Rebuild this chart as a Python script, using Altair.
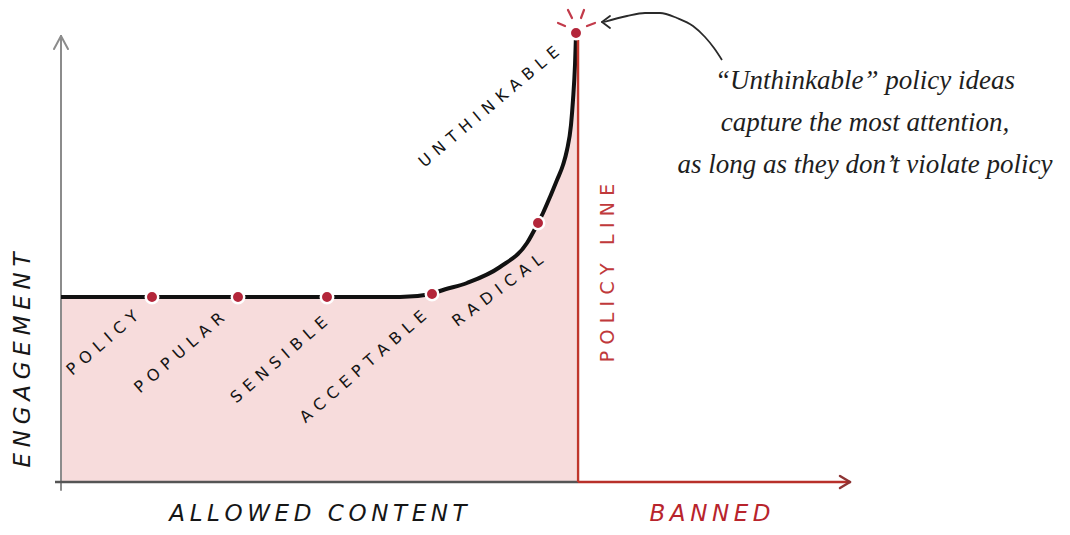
import altair as alt
import pandas as pd

# ---- data (x = position along the content spectrum, y = engagement) ----
curve_x = [0, 91, 177, 266, 339, 371, 379, 406, 439, 466, 477, 482, 489, 496, 502, 506, 510, 512, 514, 515]
curve_y = [185, 185, 185, 185, 185, 188, 191, 199, 215, 239, 259, 269, 285, 302, 317, 332, 357, 382, 417, 447]

stage_names = ["POLICY", "POPULAR", "SENSIBLE", "ACCEPTABLE", "RADICAL", "UNTHINKABLE"]
stage_x = [91, 177, 266, 371, 477, 515]
stage_y = [185, 185, 185, 188, 259, 449]

policy_line_x = 517
axis_end_x = 789
axis_top_y = 446

annotation = "\u201cUnthinkable\u201d policy ideas\ncapture the most attention,\nas long as they don\u2019t violate policy"

# label placement (offsets from the dot, angle of the rotated label)
label_dx = [-16, -16, -2, -8, 3, -19]
label_dy = [-17, -19, -23, -20, -35, -17]
label_angle = [319, 319, 319, 319, 323, 320]


def track(s, sp):
    return sp.join(list(s))


XS = alt.Scale(domain=[-53, 1001], nice=False, zero=False)
YS = alt.Scale(domain=[-45, 474], nice=False, zero=False)


def X(f):
    return alt.X(f, scale=XS, axis=None)


def Y(f):
    return alt.Y(f, scale=YS, axis=None)


curve = pd.DataFrame({"x": curve_x, "y": curve_y})
stages = pd.DataFrame({
    "name": stage_names,
    "label": [track(n, "\u2009\u2009") for n in stage_names],
    "x": stage_x, "y": stage_y,
    "dx": label_dx, "dy": label_dy, "angle": label_angle,
})

area = alt.Chart(curve).mark_area(color="#f7dcdc", interpolate="monotone").encode(
    x=X("x:Q"), y=Y("y:Q"), y2=alt.datum(0)
)

line = alt.Chart(curve).mark_line(color="#111111", strokeWidth=4, interpolate="monotone").encode(
    x=X("x:Q"), y=Y("y:Q")
)

# axes segments
y_axis = pd.DataFrame({"x": [0, 0, 0], "y": [-8, axis_top_y, axis_top_y],
                       "x2": [0, -7, 7], "y2": [axis_top_y, axis_top_y - 13, axis_top_y - 13]})
y_axis_layer = alt.Chart(y_axis).mark_rule(color="#8c8c8c", strokeWidth=2, strokeCap="round").encode(
    x=X("x:Q"), y=Y("y:Q"), x2="x2:Q", y2="y2:Q"
)

x_allowed = pd.DataFrame({"x": [-6], "y": [0], "x2": [policy_line_x], "y2": [0]})
x_allowed_layer = alt.Chart(x_allowed).mark_rule(color="#555555", strokeWidth=2.5).encode(
    x=X("x:Q"), y=Y("y:Q"), x2="x2:Q", y2="y2:Q"
)

x_banned = pd.DataFrame({"x": [policy_line_x], "y": [0], "x2": [axis_end_x], "y2": [0]})
x_banned_layer = alt.Chart(x_banned).mark_rule(color="#b8302a", strokeWidth=2.5).encode(
    x=X("x:Q"), y=Y("y:Q"), x2="x2:Q", y2="y2:Q"
)
x_head = pd.DataFrame({"x": [axis_end_x, axis_end_x], "y": [0, 0],
                       "x2": [axis_end_x - 10, axis_end_x - 10], "y2": [6, -6]})
x_head_layer = alt.Chart(x_head).mark_rule(color="#8e3434", strokeWidth=2.5, strokeCap="round").encode(
    x=X("x:Q"), y=Y("y:Q"), x2="x2:Q", y2="y2:Q"
)

policy = pd.DataFrame({"x": [policy_line_x], "y": [0], "x2": [policy_line_x], "y2": [442]})
policy_layer = alt.Chart(policy).mark_rule(color="#c0372c", strokeWidth=2.5).encode(
    x=X("x:Q"), y=Y("y:Q"), x2="x2:Q", y2="y2:Q"
)

# burst around the unthinkable point
burst = pd.DataFrame({"x": [497, 507, 523, 526], "y": [459, 472, 472, 456],
                      "x2": [504, 511, 520, 534], "y2": [456, 464, 464, 459]})
burst_layer = alt.Chart(burst).mark_rule(color="#c23a4a", strokeWidth=2.2, strokeCap="round").encode(
    x=X("x:Q"), y=Y("y:Q"), x2="x2:Q", y2="y2:Q"
)

dots = alt.Chart(stages).mark_circle(color="#b3263a", size=155, opacity=1, stroke="white", strokeWidth=2.5).encode(
    x=X("x:Q"), y=Y("y:Q")
)

labels = alt.Chart(stages).transform_calculate(
    lx="datum.x + datum.dx", ly="datum.y + datum.dy"
).mark_text(align="right", baseline="middle", font="DejaVu Sans", fontSize=16, color="#151515").encode(
    x=X("lx:Q"), y=Y("ly:Q"), text="label:N", angle=alt.Angle("angle:Q", scale=None)
)

# annotation arrow
arrow = pd.DataFrame({"x": [543, 566, 584, 599, 616, 632, 644, 653, 661],
                      "y": [460, 466, 469, 469, 464, 456, 445, 434, 422]})
arrow_layer = alt.Chart(arrow).mark_line(color="#2a2a2a", strokeWidth=1.8, interpolate="monotone").encode(
    x=X("x:Q"), y=Y("y:Q")
)
arrow_head = pd.DataFrame({"x": [541, 541], "y": [460, 460], "x2": [549, 549], "y2": [466, 454]})
arrow_head_layer = alt.Chart(arrow_head).mark_rule(color="#2a2a2a", strokeWidth=1.8, strokeCap="round").encode(
    x=X("x:Q"), y=Y("y:Q"), x2="x2:Q", y2="y2:Q"
)

engagement_text = alt.Chart(pd.DataFrame({"x": [-38], "y": [122], "t": [track("ENGAGEMENT", "\u2005")]})).mark_text(
    align="center", baseline="middle", font="DejaVu Sans", fontStyle="oblique", fontSize=23,
    angle=270, color="#161616"
).encode(x=X("x:Q"), y=Y("y:Q"), text="t:N")

allowed_text = alt.Chart(pd.DataFrame({"x": [257], "y": [-32], "t": [track("ALLOWED CONTENT", "\u2009")]})).mark_text(
    align="center", baseline="middle", font="DejaVu Sans", fontStyle="oblique", fontSize=23, color="#161616"
).encode(x=X("x:Q"), y=Y("y:Q"), text="t:N")

banned_text = alt.Chart(pd.DataFrame({"x": [649], "y": [-32], "t": [track("BANNED", "\u2009")]})).mark_text(
    align="center", baseline="middle", font="DejaVu Sans", fontStyle="oblique", fontSize=23, color="#b8242c"
).encode(x=X("x:Q"), y=Y("y:Q"), text="t:N")

policy_text = alt.Chart(pd.DataFrame({"x": [547], "y": [209], "t": [track("POLICY LINE", "\u2004")]})).mark_text(
    align="center", baseline="middle", font="DejaVu Sans", fontSize=19, angle=270, color="#c0393b"
).encode(x=X("x:Q"), y=Y("y:Q"), text="t:N")

note = alt.Chart(pd.DataFrame({"x": [804], "y": [401], "t": [annotation]})).mark_text(
    align="center", baseline="middle", font="Liberation Serif", fontStyle="italic", fontSize=27,
    lineBreak="\n", lineHeight=42, color="#1e1e1e"
).encode(x=X("x:Q"), y=Y("y:Q"), text="t:N")

chart = alt.layer(
    area, y_axis_layer, x_allowed_layer, x_banned_layer, x_head_layer,
    line, policy_layer, burst_layer, dots, labels,
    arrow_layer, arrow_head_layer, engagement_text, allowed_text, banned_text, policy_text, note
).properties(
    width=1054, height=519, padding=0, autosize=alt.AutoSizeParams(type="none"),
    background="white"
).configure_view(stroke=None)

chart.save("out.html", embed_options={"renderer": "svg", "actions": False})
